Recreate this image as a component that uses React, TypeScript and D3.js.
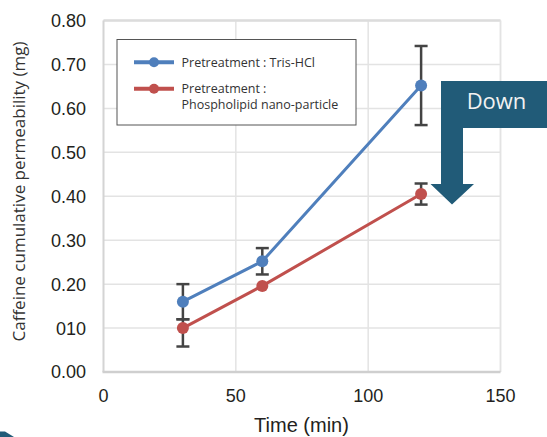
import React from 'react';
import * as d3 from 'd3';

// data
const times = [30, 60, 120];
const trisValues = [0.16, 0.252, 0.652];
const trisErrUp = [0.04, 0.03, 0.09];
const trisErrDown = [0.04, 0.03, 0.09];
const lipidValues = [0.1, 0.196, 0.405];
const lipidErrUp = [0.02, 0, 0.024];
const lipidErrDown = [0.042, 0, 0.024];
const yTicks = [0, 0.1, 0.2, 0.3, 0.4, 0.5, 0.6, 0.7, 0.8];
const yTickLabels = ['0.00', '010', '0.20', '0.30', '0.40', '0.50', '0.60', '0.70', '0.80'];
const xTicks = [0, 50, 100, 150];

const BLUE = '#4f7fbc';
const RED = '#c0504d';
const TEAL = '#215b78';

function App() {
  const x = d3.scaleLinear().domain([0, 150]).range([103.5, 500.5]);
  const y = d3.scaleLinear().domain([0, 0.8]).range([372, 20.5]);

  const line = d3.line<number>()
    .x((d, i) => x(times[i]))
    .y(d => y(d));

  const series = [
    { name: 'lipid', values: lipidValues, up: lipidErrUp, down: lipidErrDown, color: RED },
    { name: 'tris', values: trisValues, up: trisErrUp, down: trisErrDown, color: BLUE },
  ];

  const tickFont = '"Liberation Sans", Arial, sans-serif';
  const labelFont = '"Open Sans", "Noto Sans", sans-serif';

  return (
    <svg width={547} height={437} style={{ position: 'absolute', left: 0, top: 0, background: '#fff' }}>
      {/* grid */}
      {yTicks.slice(1).map(t => (
        <line key={'gy' + t} x1={x(0)} x2={x(150)} y1={y(t)} y2={y(t)} stroke="#e3e3e3" strokeWidth={1.5} />
      ))}
      {xTicks.slice(1).map(t => (
        <line key={'gx' + t} x1={x(t)} x2={x(t)} y1={y(0)} y2={y(0.8)} stroke="#e3e3e3" strokeWidth={1.5} />
      ))}
      {/* frame */}
      <line x1={x(0)} x2={x(150)} y1={y(0.8)} y2={y(0.8)} stroke="#dcdcdc" strokeWidth={2.5} />
      <line x1={x(150)} x2={x(150)} y1={y(0)} y2={y(0.8)} stroke="#e3e3e3" strokeWidth={1.5} />
      <line x1={x(0)} x2={x(0)} y1={y(0)} y2={y(0.8)} stroke="#d4d4d4" strokeWidth={2} />
      <line x1={x(0) - 1} x2={x(150)} y1={y(0)} y2={y(0)} stroke="#cfcfcf" strokeWidth={2.5} />

      {/* y ticks */}
      {yTicks.map((t, i) => (
        <text key={'ty' + t} x={86} y={y(t)} dy="0.36em" textAnchor="end"
          fontFamily={tickFont} fontSize={18} fill="#231f20">{yTickLabels[i]}</text>
      ))}
      {/* x ticks */}
      {xTicks.map(t => (
        <text key={'tx' + t} x={x(t)} y={401.5} textAnchor="middle"
          fontFamily={tickFont} fontSize={18} fill="#231f20">{t}</text>
      ))}
      <text x={301.5} y={431.5} textAnchor="middle" fontFamily={tickFont} fontSize={20} fill="#231f20">Time (min)</text>
      <text transform={`translate(25,${191.5}) rotate(-90)`} textAnchor="middle"
        fontFamily={labelFont} fontSize={17} fill="#333">Caffeine cumulative permeability (mg)</text>

      {/* series */}
      {series.map(s => (
        <g key={s.name}>
          <path d={line(s.values) || ''} fill="none" stroke={s.color} strokeWidth={3} />
          {s.values.map((v, i) => (s.up[i] > 0 || s.down[i] > 0) && (
            <g key={i} stroke="#444" strokeWidth={2.5}>
              <line x1={x(times[i])} x2={x(times[i])} y1={y(v - s.down[i])} y2={y(v + s.up[i])} />
              <line x1={x(times[i]) - 6.5} x2={x(times[i]) + 6.5} y1={y(v - s.down[i])} y2={y(v - s.down[i])} />
              <line x1={x(times[i]) - 6.5} x2={x(times[i]) + 6.5} y1={y(v + s.up[i])} y2={y(v + s.up[i])} />
            </g>
          ))}
          {s.values.map((v, i) => (
            <circle key={'c' + i} cx={x(times[i])} cy={y(v)} r={6} fill={s.color} />
          ))}
        </g>
      ))}

      {/* legend */}
      <rect x={117} y={39.5} width={239} height={85.5} fill="#fff" stroke="#555" strokeWidth={1} />
      <line x1={134} x2={174} y1={62.3} y2={62.3} stroke={BLUE} strokeWidth={4} />
      <circle cx={154} cy={62.3} r={5} fill={BLUE} />
      <text x={181.5} y={66.8} fontFamily={labelFont} fontSize={12.5} fill="#333">Pretreatment : Tris-HCl</text>
      <line x1={134} x2={174} y1={88.7} y2={88.7} stroke={RED} strokeWidth={4} />
      <circle cx={154} cy={88.7} r={5} fill={RED} />
      <text x={181.5} y={92.8} fontFamily={labelFont} fontSize={12.5} fill="#333">Pretreatment :</text>
      <text x={181.5} y={109.4} fontFamily={labelFont} fontSize={12.5} fill="#333">Phospholipid nano-particle</text>

      {/* arrow callout */}
      <path d="M441,81 L547,81 L547,128 L463,128 L463,184 L474,184 L452,204.5 L430.5,184 L441,184 Z" fill={TEAL} />
      <text x={496.5} y={109.3} textAnchor="middle" fontFamily={labelFont} fontSize={22} fill="#f2f2f2">Down</text>

      {/* corner fragment */}
      <path d="M0,431.5 L5,431.5 L14,437 L0,437 Z" fill={TEAL} />
    </svg>
  );
}

export default App;
